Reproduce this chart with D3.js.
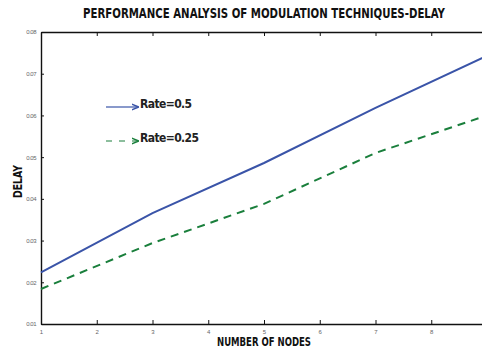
<!DOCTYPE html>
<html>
<head>
<meta charset="utf-8">
<script src="https://cdn.jsdelivr.net/npm/d3@7"></script>
<style>
  body { margin: 0; background: #fff; }
  svg { display: block; font-family: "Liberation Sans Narrow", "DejaVu Sans Condensed", Arial, sans-serif; }
</style>
</head>
<body>
<div id="chart"></div>
<script>
// --- Data ---
const nodes = [1, 3, 5, 7, 9];
const rateHalf = [0.0224, 0.0366, 0.0486, 0.0618, 0.0743];
const rateQuarter = [0.0184, 0.0294, 0.0388, 0.0510, 0.0600];
const xTicks = [1, 2, 3, 4, 5, 6, 7, 8];
const yTicks = [0.01, 0.02, 0.03, 0.04, 0.05, 0.06, 0.07, 0.08];
const seriesNames = ["Rate=0.5", "Rate=0.25"];

const width = 482, height = 350;
const margin = { top: 32, right: -5, bottom: 26, left: 41 };

const svg = d3.select("#chart").append("svg")
    .attr("width", width)
    .attr("height", height);

// the right edge (9 nodes) sits just past the picture, like the reference
const x = d3.scaleLinear().domain([1, 9]).range([margin.left, width - margin.right]);
const y = d3.scaleLinear().domain([0.01, 0.08]).range([height - margin.bottom, margin.top]);

// --- Frame and ticks ---
const axisColor = "#111";
const tickFmt = d3.format(".2f");

svg.append("g")
    .attr("transform", `translate(0,${y(0.01)})`)
    .call(d3.axisBottom(x).tickValues(xTicks).tickSizeInner(-4).tickSizeOuter(0).tickPadding(6).tickFormat(d3.format("d")))
    .call(g => g.select(".domain").attr("stroke", axisColor).attr("stroke-width", 1.4))
    .call(g => g.selectAll(".tick line").attr("stroke", axisColor))
    .call(g => g.selectAll(".tick text").attr("fill", "#666").attr("font-size", 6));

svg.append("g")
    .attr("transform", `translate(0,${y(0.08)})`)
    .call(d3.axisTop(x).tickValues(xTicks).tickSizeInner(-4).tickSizeOuter(0).tickFormat(""))
    .call(g => g.select(".domain").attr("stroke", axisColor).attr("stroke-width", 1.4))
    .call(g => g.selectAll(".tick line").attr("stroke", axisColor));

svg.append("g")
    .attr("transform", `translate(${x(1)},0)`)
    .call(d3.axisLeft(y).tickValues(yTicks).tickSizeInner(-3).tickSizeOuter(0).tickPadding(5).tickFormat(tickFmt))
    .call(g => g.select(".domain").attr("stroke", axisColor).attr("stroke-width", 1.4))
    .call(g => g.selectAll(".tick line").attr("stroke", axisColor))
    .call(g => g.selectAll(".tick text").attr("fill", "#666").attr("font-size", 6).attr("letter-spacing", -0.5));

svg.append("g")
    .attr("transform", `translate(${x(9)},0)`)
    .call(d3.axisRight(y).tickValues(yTicks).tickSizeInner(-5).tickSizeOuter(0).tickFormat(""))
    .call(g => g.select(".domain").attr("stroke", axisColor).attr("stroke-width", 1.4))
    .call(g => g.selectAll(".tick line").attr("stroke", "#555"));

// --- Lines ---
const line = d3.line().x(d => x(d[0])).y(d => y(d[1]));

svg.append("path")
    .datum(nodes.map((n, i) => [n, rateHalf[i]]))
    .attr("fill", "none")
    .attr("stroke", "#3a54a8")
    .attr("stroke-width", 2)
    .attr("d", line);

svg.append("path")
    .datum(nodes.map((n, i) => [n, rateQuarter[i]]))
    .attr("fill", "none")
    .attr("stroke", "#1a7f3c")
    .attr("stroke-width", 2)
    .attr("stroke-dasharray", "8,6")
    .attr("d", line);

// --- Legend (arrows) ---
const defs = svg.append("defs");
[["arrBlue", "#3a54a8"], ["arrGreen", "#1a7f3c"]].forEach(([id, c]) => {
    defs.append("marker")
        .attr("id", id)
        .attr("viewBox", "0 0 10 10")
        .attr("refX", 9).attr("refY", 5)
        .attr("markerWidth", 6).attr("markerHeight", 6)
        .attr("orient", "auto")
        .append("path")
        .attr("d", "M0,1 L10,5 L0,9")
        .attr("fill", "none")
        .attr("stroke", c)
        .attr("stroke-width", 2);
});

const legend = [
    { name: seriesNames[0], color: "#3a54a8", dash: null, marker: "arrBlue", y: 107 },
    { name: seriesNames[1], color: "#1a7f3c", dash: "6,7", marker: "arrGreen", y: 141 }
];
legend.forEach(l => {
    svg.append("line")
        .attr("x1", 106).attr("x2", 138)
        .attr("y1", l.y).attr("y2", l.y)
        .attr("stroke", l.color)
        .attr("stroke-width", 1.2)
        .attr("stroke-dasharray", l.dash)
        .attr("marker-end", `url(#${l.marker})`);
    svg.append("text")
        .attr("x", 140).attr("y", l.y + 1)
        .attr("font-size", 12)
        .attr("font-weight", "bold")
        .attr("fill", "#222")
        .attr("letter-spacing", -0.6)
        .text(l.name);
});

// --- Titles ---
svg.append("text")
    .attr("x", 83).attr("y", 18)
    .attr("textLength", 362)
    .attr("lengthAdjust", "spacingAndGlyphs")
    .attr("font-size", 14)
    .attr("font-weight", "bold")
    .attr("fill", "#111")
    .text("PERFORMANCE ANALYSIS OF MODULATION TECHNIQUES-DELAY");

svg.append("text")
    .attr("x", 217).attr("y", 346)
    .attr("textLength", 94)
    .attr("lengthAdjust", "spacingAndGlyphs")
    .attr("font-size", 12)
    .attr("font-weight", "bold")
    .attr("fill", "#111")
    .text("NUMBER OF NODES");

svg.append("text")
    .attr("transform", "translate(22,198) rotate(-90)")
    .attr("textLength", 33)
    .attr("lengthAdjust", "spacingAndGlyphs")
    .attr("font-size", 12)
    .attr("font-weight", "bold")
    .attr("fill", "#111")
    .text("DELAY");
</script>
</body>
</html>
